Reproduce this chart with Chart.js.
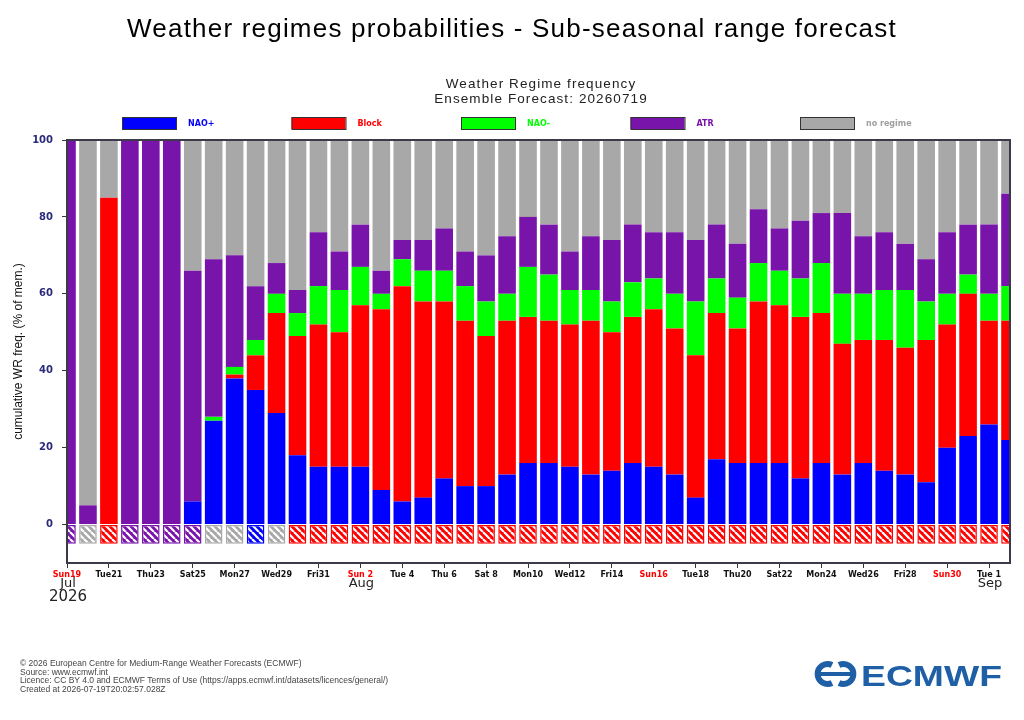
<!DOCTYPE html>
<html>
<head>
<meta charset="utf-8">
<script src="https://cdn.jsdelivr.net/npm/chart.js@4.4.1/dist/chart.umd.min.js"></script>
<style>
  body { margin: 0; background: #fff; font-family: "Liberation Sans", Arial, sans-serif; }
  #page { position: relative; width: 1024px; height: 720px; overflow: hidden; }
  #wr-chart { position: absolute; left: 0; top: 0; }
  .txt { position: absolute; white-space: nowrap; }
  #title { left: 0; width: 1024px; top: 13px; text-align: center; font-size: 26px; letter-spacing: 1.2px; color: #000; }
  #sub { left: 341px; width: 400px; top: 76px; text-align: center; font-size: 13.5px; line-height: 15px; color: #222; letter-spacing: 1.1px; }
  #foot { left: 20px; top: 659px; font-size: 8.5px; line-height: 8.5px; color: #444; }
  #logo { position: absolute; left: 813px; top: 659px; }
</style>
</head>
<body>
<div id="page">
  <canvas id="wr-chart" width="1024" height="720"></canvas>
  <div class="txt" id="title">Weather regimes probabilities - Sub-seasonal range forecast</div>
  <div class="txt" id="sub">Weather Regime frequency<br>Ensemble Forecast: 20260719</div>
  <div class="txt" id="foot">© 2026 European Centre for Medium-Range Weather Forecasts (ECMWF)<br>Source: www.ecmwf.int<br>Licence: CC BY 4.0 and ECMWF Terms of Use (https://apps.ecmwf.int/datasets/licences/general/)<br>Created at 2026-07-19T20:02:57.028Z</div>
  <svg id="logo" width="192" height="30" viewBox="0 0 192 30">
    <g fill="none" stroke="#1f5fa6" stroke-width="6">
      <path d="M19 6 A10 10 0 1 0 19 24"/>
      <path d="M26 6 A10 10 0 1 1 26 24"/>
    </g>
    <rect x="2" y="13" width="41" height="4" fill="#1f5fa6"/>
    <text x="48" y="27" font-family="Liberation Sans, Arial" font-weight="bold" font-size="30" fill="#1f5fa6" textLength="141" lengthAdjust="spacingAndGlyphs">ECMWF</text>
  </svg>
</div>
<script>
// one entry per forecast day, 19 Jul - 2 Sep 2026
const days = [
  'Sun19','Mon20','Tue21','Wed22','Thu23','Fri24','Sat25','Sun26','Mon27','Tue28','Wed29','Thu30','Fri31',
  'Sat 1','Sun 2','Mon 3','Tue 4','Wed 5','Thu 6','Fri 7','Sat 8','Sun 9','Mon10','Tue11','Wed12','Thu13',
  'Fri14','Sat15','Sun16','Mon17','Tue18','Wed19','Thu20','Fri21','Sat22','Sun23','Mon24','Tue25','Wed26',
  'Thu27','Fri28','Sat29','Sun30','Mon31','Tue 1','Wed 2'
];
const monthNames = ['Jul', 'Aug', 'Sep'];
const monthAt = [0, 14, 44];
const yearLabel = '2026';
const yTicks = [0, 20, 40, 60, 80, 100];

// % of ensemble members in each regime
const naoPlus  = [0,0,0,0,0,0,6,27,38,35,29,18,15,15,15,9,6,7,12,10,10,13,16,16,15,13,14,16,15,13,7,17,16,16,16,12,16,13,16,14,13,11,20,23,26,22];
const block    = [0,0,85,0,0,0,0,0,1,9,26,31,37,35,42,47,56,51,46,43,39,40,38,37,37,40,36,38,41,38,37,38,35,42,41,42,39,34,32,34,33,37,32,37,27,31];
const naoMinus = [0,0,0,0,0,0,0,1,2,4,5,6,10,11,10,4,7,8,8,9,9,7,13,12,9,8,8,9,8,9,14,9,8,10,9,10,13,13,12,13,15,10,8,5,7,9];
const atr      = [100,5,0,100,100,100,60,41,29,14,8,6,14,10,11,6,5,8,11,9,12,15,13,13,10,14,16,15,12,16,16,14,14,14,11,15,13,21,15,15,12,11,16,13,18,24];
const noRegime = [0,95,15,0,0,0,34,31,30,38,32,39,24,29,22,34,26,26,23,29,30,25,20,22,29,25,26,22,24,24,26,22,27,18,23,21,19,19,25,24,27,31,24,22,22,14];
// hatched box under each bar
const dominant = ['ATR','none','Block','ATR','ATR','ATR','ATR','none','none','NAO+','none',
  'Block','Block','Block','Block','Block','Block','Block','Block','Block','Block','Block','Block','Block',
  'Block','Block','Block','Block','Block','Block','Block','Block','Block','Block','Block','Block','Block',
  'Block','Block','Block','Block','Block','Block','Block','Block','Block'];
const dominantDepth = -5;

const colors = { 'NAO+': '#0000ff', 'Block': '#ff0000', 'NAO-': '#00ff00', 'ATR': '#7814aa', 'none': '#a8a8a8' };
const legendText = { 'NAO+': 'NAO+', 'Block': 'Block', 'NAO-': 'NAO-', 'ATR': 'ATR', 'none': 'no regime' };
const legendTextColor = { 'NAO+': '#0000ff', 'Block': '#ff0000', 'NAO-': '#00ff00', 'ATR': '#7814aa', 'none': '#a0a0a0' };

const canvas = document.getElementById('wr-chart');
const ctx = canvas.getContext('2d');

function hatch(color) {
  const t = document.createElement('canvas');
  t.width = 7; t.height = 7;
  const g = t.getContext('2d');
  g.fillStyle = color;
  g.fillRect(0, 0, 7, 7);
  g.strokeStyle = '#fff';
  g.lineWidth = 2.2;
  for (const o of [-7, 0, 7]) {
    g.beginPath(); g.moveTo(o, 0); g.lineTo(o + 7, 7); g.stroke();
  }
  return ctx.createPattern(t, 'repeat');
}
const patterns = {};
Object.keys(colors).forEach(k => patterns[k] = hatch(colors[k]));

const series = [
  ['NAO+', naoPlus], ['Block', block], ['NAO-', naoMinus], ['ATR', atr], ['none', noRegime]
];
const barOpts = { stack: 'wr', categoryPercentage: 1, barPercentage: 0.84, borderWidth: 0, clip: 0 };
const datasets = series.map(([key, vals]) => Object.assign({
  label: key, data: vals, backgroundColor: colors[key]
}, barOpts));
datasets.push(Object.assign({}, barOpts, {
  label: 'dominant',
  data: dominant.map(() => dominantDepth),
  backgroundColor: dominant.map(k => patterns[k]),
  borderColor: dominant.map(k => colors[k]),
  borderWidth: 1.5,
  borderSkipped: false
}));

const decor = {
  id: 'decor',
  afterDraw(chart) {
    const a = chart.chartArea;
    const x = chart.scales.x;
    const c = chart.ctx;
    c.save();
    // frame
    c.strokeStyle = '#3a3a48';
    c.lineWidth = 2;
    c.strokeRect(a.left, a.top, a.right - a.left, a.bottom - a.top);
    // month / year under the day ticks
    c.fillStyle = '#222';
    c.textAlign = 'center';
    c.textBaseline = 'alphabetic';
    c.font = '13px "DejaVu Sans"';
    monthNames.forEach((m, i) => c.fillText(m, x.getPixelForValue(monthAt[i]) + 1, 587));
    c.font = '15px "DejaVu Sans"';
    c.fillText(yearLabel, x.getPixelForValue(monthAt[0]) + 1, 601);
    // legend row
    c.textAlign = 'left';
    c.textBaseline = 'middle';
    c.font = 'bold 8px "DejaVu Sans"';
    series.forEach(([key], i) => {
      const bx = 122 + i * 169.5;
      c.fillStyle = colors[key];
      c.fillRect(bx, 117, 54, 12);
      c.strokeStyle = '#333';
      c.lineWidth = 1;
      c.strokeRect(bx + 0.5, 117.5, 54, 12);
      c.fillStyle = legendTextColor[key];
      c.fillText(legendText[key], bx + 66, 123.5);
    });
    c.restore();
  }
};

new Chart(ctx, {
  type: 'bar',
  data: { labels: days, datasets: datasets },
  options: {
    responsive: false,
    animation: false,
    devicePixelRatio: 1,
    layout: { padding: { top: 140, right: 14, left: 0, bottom: 0 } },
    plugins: { legend: { display: false }, tooltip: { enabled: false } },
    scales: {
      x: {
        stacked: true,
        offset: false,
        afterFit: s => { s.height = 157; },
        grid: {
          offset: false,
          drawOnChartArea: false,
          tickLength: 5,
          color: c => c.index % 2 === 0 ? '#333' : 'rgba(0,0,0,0)'
        },
        border: { display: true, color: '#3a3a48', width: 2 },
        ticks: {
          autoSkip: false,
          maxRotation: 0,
          minRotation: 0,
          padding: 2,
          font: { family: 'DejaVu Sans', size: 8, weight: 'bold' },
          color: c => days[c.index] && days[c.index].startsWith('Sun') ? '#ff0000' : '#111',
          callback: (v, i) => i % 2 === 0 ? days[i] : ''
        }
      },
      y: {
        stacked: true,
        min: -10,
        max: 100,
        afterFit: s => { s.width = 67; },
        afterBuildTicks: s => { s.ticks = yTicks.map(v => ({ value: v })); },
        grid: { drawOnChartArea: false, tickLength: 5, color: '#333' },
        border: { display: true, color: '#3a3a48', width: 2 },
        ticks: {
          padding: 9,
          font: { family: 'DejaVu Sans', size: 10, weight: 'bold' },
          color: '#2b2b7b'
        },
        title: {
          display: true,
          text: 'cumulative WR freq. (% of mem.)',
          font: { family: 'Liberation Sans', size: 12 },
          color: '#111',
          padding: { top: 11, bottom: 0 }
        }
      }
    }
  },
  plugins: [decor]
});
</script>
</body>
</html>
